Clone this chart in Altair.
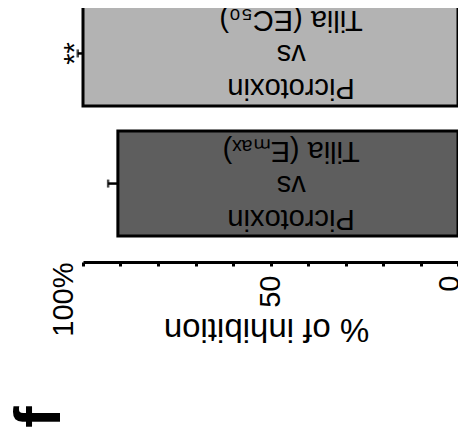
import altair as alt
import pandas as pd

categories = ["Picrotoxin vs Tilia (EC50)", "Picrotoxin vs Tilia (Emax)"]
bar_labels = ["Picrotoxin\nvs\nTilia (EC₅₀)", "Picrotoxin\nvs\nTilia (Eₘₐₓ)"]
inhibition = [100.0, 90.7]
sem = [1.4, 2.6]
significance = ["**", ""]
bar_colors = ["#b3b3b3", "#5e5e5e"]
tick_values = [0, 10, 20, 30, 40, 50, 60, 70, 80, 90, 100]
labelled_ticks = [0, 50, 100]
panel_label = ["f"]

FONT = "Liberation Sans"

df = pd.DataFrame({
    "category": categories,
    "label": bar_labels,
    "inhibition": inhibition,
    "sem": sem,
    "sig": significance,
})
panel_df = pd.DataFrame({"panel": panel_label})

x_scale = alt.Scale(domain=[0, 100], reverse=True, nice=False, zero=True)
y_scale = alt.Scale(domain=categories, range=[-7, 228], paddingInner=0.194, paddingOuter=0)

label_expr = ("indexof([" + ",".join(str(v) for v in labelled_ticks) +
              "], datum.value) < 0 ? '' : (datum.value == 100 ? '100%' : datum.label)")

x_axis = alt.Axis(
    values=tick_values,
    labelExpr=label_expr,
    orient="bottom",
    title="% of inhibition",
    grid=False,
    domainColor="black",
    domainWidth=3,
    tickColor="black",
    tickWidth=3,
    tickSize=4,
    labelAngle=270,
    labelAlign="right",
    labelBaseline="middle",
    labelFont=FONT,
    labelFontSize=29,
    labelColor="black",
    labelPadding={"condition": {"test": "datum.value == 100", "value": -4}, "value": 9},
    labelOffset={"condition": [
        {"test": "datum.value == 100", "value": -20},
        {"test": "datum.value == 0", "value": -9}], "value": 0},
    labelOverlap=False,
    labelFlush=False,
    titleFont=FONT,
    titleFontSize=33,
    titleFontWeight="normal",
    titleColor="black",
    titleAngle=180,
    titleAlign="center",
    titleBaseline="middle",
    titleX=183,
    titleY=66,
)

base = alt.Chart(df)
y_enc = alt.Y("category:N", scale=y_scale, axis=None, sort=categories)

bars = base.mark_bar(stroke="black", strokeWidth=3).encode(
    x=alt.X("inhibition:Q", scale=x_scale, axis=x_axis),
    x2=alt.datum(0),
    y=y_enc,
    color=alt.Color("category:N", scale=alt.Scale(domain=categories, range=bar_colors), legend=None),
)

err_rule = base.transform_calculate(upper="datum.inhibition + datum.sem").mark_rule(
    color="black", strokeWidth=2.5
).encode(
    x=alt.X("inhibition:Q", scale=x_scale, axis=x_axis),
    x2="upper:Q",
    y=y_enc,
)

err_cap = base.transform_calculate(upper="datum.inhibition + datum.sem").mark_tick(
    color="black", thickness=2.5, size=8, orient="vertical"
).encode(
    x=alt.X("upper:Q", scale=x_scale, axis=x_axis),
    y=y_enc,
)

stars = base.transform_calculate(starx="datum.inhibition + datum.sem + 0.7").mark_text(
    font=FONT, fontSize=29, angle=270, align="center", baseline="middle", color="black"
).encode(
    x=alt.X("starx:Q", scale=x_scale, axis=x_axis),
    y=y_enc,
    text="sig:N",
)

texts = base.mark_text(
    font=FONT, fontSize=29, angle=180, align="center", baseline="middle",
    lineBreak="\n", lineHeight=34, dy=-35, color="black"
).encode(
    x=alt.datum(44.5, scale=x_scale, axis=x_axis),
    y=y_enc,
    text="label:N",
)

panel = alt.Chart(panel_df).mark_text(
    font=FONT, fontSize=64, fontWeight="bold", angle=270, align="center",
    baseline="middle", color="black"
).encode(
    x=alt.value(-42),
    y=alt.value(409),
    text="panel:N",
)

chart = alt.layer(bars, err_rule, err_cap, stars, texts, panel).properties(
    width=375,
    height=254,
    padding={"left": 75, "top": 0, "right": 0, "bottom": 173},
    autosize=alt.AutoSizeParams(type="none"),
).configure_view(stroke=None)

chart.save("out.html", embed_options={"renderer": "svg", "actions": False})
